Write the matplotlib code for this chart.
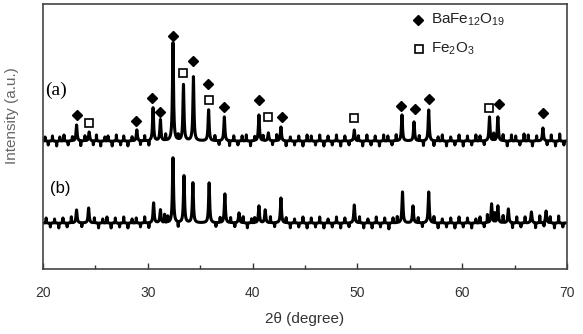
import matplotlib.pyplot as plt
import numpy as np

plt.rcParams['font.family'] = 'Liberation Sans'
plt.rcParams['mathtext.fontset'] = 'custom'
plt.rcParams['mathtext.rm'] = 'Liberation Sans'

# peaks of pattern (a): 2theta, height above baseline
pos_a = [23.2, 24.4, 28.95, 30.5, 31.2, 32.4, 33.4, 34.35, 35.8, 37.3,
         40.6, 41.5, 42.7, 49.7, 54.25, 55.4, 56.8, 62.6, 63.4, 67.7]
amp_a = [16, 9, 11, 33, 21, 98, 56, 64, 31, 24,
         26, 8, 14, 11, 26, 19, 31, 24, 24, 13]
# spikes of the noisy background of (a)
spk_pos_a = [20.2, 20.5, 20.9, 21.3, 21.6, 22.0, 22.4, 22.8, 23.6, 24.0,
             24.8, 25.1, 25.5, 25.9, 26.2, 26.6, 27.0, 27.4, 27.7, 28.1,
             28.5, 29.3, 29.7, 30.1, 31.7, 32.9, 36.4, 36.8, 37.8, 38.2,
             38.6, 39.0, 39.4, 39.8, 40.2, 41.0, 41.9, 42.3, 43.2, 43.6,
             44.0, 44.4, 44.8, 45.2, 45.6, 46.0, 46.4, 46.8, 47.2, 47.6,
             48.0, 48.4, 48.8, 49.2, 50.1, 50.5, 50.9, 51.3, 51.7, 52.1,
             52.5, 52.9, 53.3, 53.7, 55.9, 56.3, 57.3, 57.7, 58.1, 58.5,
             58.9, 59.3, 59.7, 60.1, 60.5, 60.9, 61.3, 61.7, 62.1, 63.0,
             63.9, 64.3, 64.7, 65.1, 65.5, 65.9, 66.3, 66.7, 67.1, 68.1,
             68.5, 68.9, 69.3, 69.7]
spk_amp_a = [4, -4, 5, -5, 4, 6, -4, 4, -5, 5,
             -4, 6, -5, 4, 5, -5, 6, -4, 5, -5,
             4, -4, 5, -5, 6, 5, 5, -4, -5, 5,
             -4, 5, 6, -5, 4, 5, -4, 6, -5, 4,
             -4, 5, -5, 6, 5, -4, 6, -5, 5, -4,
             6, -5, 5, -4, 5, -5, 6, -4, 5, -5,
             6, 5, -4, 6, 5, -5, -5, 4, 6, -5,
             4, -4, 6, -5, 5, -4, 6, 5, -4, 7,
             6, -5, 6, 5, -4, 7, 6, -5, 5, -4,
             6, -5, 7, -4]
base_a = 128

# peaks of pattern (b)
pos_b = [23.2, 24.35, 30.55, 31.2, 32.4, 33.45, 34.3, 35.85, 37.35, 38.7,
         40.6, 41.2, 42.7, 49.7, 54.3, 55.3, 56.8, 62.8, 63.4, 64.4, 66.6, 68.0]
amp_b = [13, 15, 20, 13, 65, 47, 40, 40, 29, 10,
         17, 13, 25, 18, 31, 17, 31, 19, 17, 14, 11, 12]
spk_pos_b = [20.3, 20.7, 21.1, 21.5, 21.9, 22.3, 22.7, 23.7, 24.9, 25.3,
             25.7, 26.1, 26.5, 26.9, 27.3, 27.7, 28.1, 28.5, 28.9, 29.3,
             29.7, 30.1, 31.6, 31.9, 32.9, 36.5, 36.9, 37.9, 38.3, 39.1,
             39.5, 39.9, 40.2, 41.7, 42.1, 43.2, 43.6, 44.0, 44.4, 44.8,
             45.2, 45.6, 46.0, 46.4, 46.8, 47.2, 47.6, 48.0, 48.4, 48.8,
             49.2, 50.2, 50.6, 51.0, 51.4, 51.8, 52.2, 52.6, 53.0, 53.4,
             53.8, 55.8, 56.2, 57.3, 57.7, 58.1, 58.5, 58.9, 59.3, 59.7,
             60.1, 60.5, 60.9, 61.3, 61.7, 62.1, 62.4, 63.1, 63.9, 64.8,
             65.2, 65.6, 66.0, 67.0, 67.4, 67.8, 68.4, 68.8, 69.2, 69.6]
spk_amp_b = [5, -4, 4, -5, 5, -4, 6, -4, 5, -5,
             4, 6, -5, 5, -4, 6, -5, 4, 5, -4,
             6, -5, 8, 6, -5, -4, 5, 5, -4, 6,
             -5, 4, 5, 6, -4, 5, -5, 4, -4, 6,
             -5, 5, -4, 6, -5, 4, -4, 6, -5, 5,
             -4, 6, -5, 4, -5, 6, -4, 5, -6, 5,
             6, 5, -4, 6, -5, 4, -4, 5, -5, 6,
             -4, 5, -5, 4, 6, -4, 8, 9, 7, -5,
             6, -4, 6, -5, 7, -4, 6, -5, 7, -4]
base_b = 46

# phase markers (a): 2theta, marker height
bafe_x = [23.2, 28.9, 30.4, 31.2, 32.4, 34.3, 35.7, 37.3, 40.6, 42.8,
          54.2, 55.5, 56.8, 63.5, 67.7]
bafe_y = [154, 148, 171, 157, 233, 208, 185, 162, 169, 152,
          163, 160, 170, 165, 156]
fe_x = [24.4, 33.4, 35.8, 41.5, 49.7, 62.6]
fe_y = [146, 196, 169, 152, 151, 161]

x = np.linspace(20, 70, 5001)


def pattern(base, pos, amp, width):
    y = np.full_like(x, float(base))
    for p, a in zip(pos, amp):
        y += a / (1 + ((x - p) / width) ** 2)
    return y


ya = pattern(base_a, pos_a, amp_a, 0.06) + pattern(0, spk_pos_a, spk_amp_a, 0.015)
yb = pattern(base_b, pos_b, amp_b, 0.06) + pattern(0, spk_pos_b, spk_amp_b, 0.015)

fig = plt.figure(figsize=(5.83, 3.34), dpi=100)
ax = fig.add_axes([0.0738, 0.1946, 0.8988, 0.7934])
ax.plot(x, ya, color='black', lw=2.2)
ax.plot(x, yb, color='black', lw=2.2)

ax.plot(bafe_x, bafe_y, 'D', color='black', ms=5.5, ls='none')
ax.plot(fe_x, fe_y, 's', mfc='white', mec='black', mew=1.2, ms=6, ls='none')

# legend drawn by hand like the original
ax.plot([55.8], [249], 'D', color='black', ms=5.5)
ax.text(57.0, 249, 'BaFe$_{12}$O$_{19}$', fontsize=11, va='center', color='#222222')
ax.plot([55.9], [220], 's', mfc='white', mec='black', mew=1.2, ms=6)
ax.text(57.0, 220, 'Fe$_{2}$O$_{3}$', fontsize=11, va='center', color='#222222')

ax.text(20.2, 179, '(a)', family='Liberation Serif', fontsize=14, va='center')
ax.text(20.7, 81, '(b)', fontsize=12, va='center')

ax.set_xlim(20, 70)
ax.set_ylim(0, 265)
ax.set_yticks([])
ax.set_xticks([20, 30, 40, 50, 60, 70])
ax.set_xticks([25, 35, 45, 55, 65], minor=True)
ax.tick_params(axis='x', direction='in', length=4, width=1, colors='#333333',
               labelsize=10, labelcolor='#333333', pad=12)
ax.tick_params(axis='x', which='minor', direction='in', length=3, width=1, colors='#333333')
for s in ax.spines.values():
    s.set_color('#444444')
    s.set_linewidth(1.2)

ax.set_xlabel('2θ (degree)', fontsize=11, color='#333333', labelpad=9)
ax.set_ylabel('Intensity (a.u.)', fontsize=11, color='#666666')
ax.yaxis.set_label_coords(-0.045, 0.58)

fig.savefig('out.png', dpi=100)
